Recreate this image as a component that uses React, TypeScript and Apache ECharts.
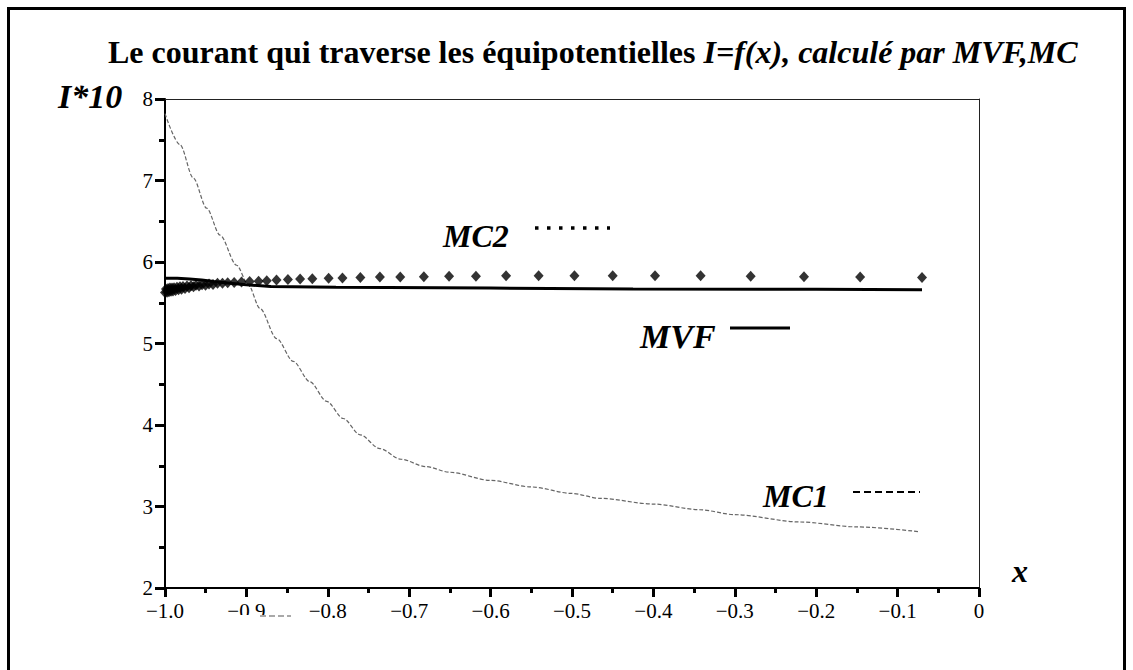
import React, { useEffect, useRef } from "react";
import * as echarts from "echarts";

// ---- data ----
const xTickLabels = ["−1.0", "−0.9", "−0.8", "−0.7", "−0.6", "−0.5", "−0.4", "−0.3", "−0.2", "−0.1", "0"];
const yTickLabels = ["2", "3", "4", "5", "6", "7", "8"];

const mc1X = [-1.0, -0.9816, -0.9652, -0.9488, -0.9324, -0.912, -0.8977, -0.8833, -0.8628, -0.8424, -0.8219, -0.8014, -0.781, -0.7604, -0.736, -0.71, -0.68, -0.65, -0.6, -0.55, -0.5, -0.4656, -0.4, -0.343, -0.3, -0.22, -0.15, -0.0725];
const mc1Y = [7.82, 7.44, 7.03, 6.66, 6.33, 5.96, 5.72, 5.43, 5.06, 4.78, 4.53, 4.29, 4.08, 3.88, 3.71, 3.58, 3.49, 3.42, 3.32, 3.24, 3.16, 3.1, 3.03, 2.96, 2.9, 2.81, 2.75, 2.69];

const mvfX = [-1.0, -0.985, -0.97, -0.955, -0.94, -0.92, -0.9, -0.87, -0.79, -0.6, -0.425, -0.2, -0.07];
const mvfY = [5.8, 5.8, 5.79, 5.78, 5.76, 5.74, 5.72, 5.7, 5.69, 5.68, 5.67, 5.665, 5.66];

const mc2X = [-1.0, -0.9988, -0.9975, -0.9963, -0.9951, -0.9939, -0.9926, -0.9914, -0.9902, -0.9889, -0.9871, -0.9853, -0.9834, -0.9816, -0.9797, -0.9779, -0.9754, -0.973, -0.9705, -0.9681, -0.965, -0.9619, -0.9582, -0.9545, -0.9502, -0.9459, -0.941, -0.9355, -0.9294, -0.923, -0.915, -0.906, -0.896, -0.885, -0.875, -0.863, -0.849, -0.834, -0.819, -0.799, -0.782, -0.76, -0.736, -0.711, -0.682, -0.651, -0.618, -0.581, -0.541, -0.497, -0.45, -0.398, -0.342, -0.2805, -0.215, -0.146, -0.07];
const mc2Y = [5.625, 5.67, 5.63, 5.675, 5.635, 5.68, 5.64, 5.68, 5.645, 5.685, 5.65, 5.69, 5.66, 5.695, 5.665, 5.7, 5.675, 5.705, 5.685, 5.71, 5.695, 5.715, 5.705, 5.72, 5.715, 5.73, 5.725, 5.74, 5.74, 5.745, 5.75, 5.755, 5.76, 5.765, 5.77, 5.78, 5.785, 5.79, 5.795, 5.8, 5.805, 5.81, 5.815, 5.815, 5.82, 5.825, 5.825, 5.83, 5.83, 5.83, 5.83, 5.83, 5.83, 5.825, 5.82, 5.815, 5.81];

const titleBold = "Le courant qui traverse les équipotentielles ";
const titleItalic = "I=f(x), calculé par MVF,MC";
const yAxisName = "I*10";
const xAxisName = "x";
const seriesNames = ["MC1", "MVF", "MC2"];

const FONT = "Liberation Serif";

const zip = (xs: number[], ys: number[]) => xs.map((x, i) => [x, ys[i]]);

export default function App() {
  const ref = useRef<HTMLDivElement>(null);

  useEffect(() => {
    if (!ref.current) return;
    const chart = echarts.init(ref.current, null, { renderer: "svg" });

    const xLabelFmt = (v: number) => {
      const idx = Math.round((v + 1) * 10);
      return xTickLabels[idx] ?? "";
    };
    const yLabelFmt = (v: number) => {
      const idx = Math.round(v - 2);
      return yTickLabels[idx] ?? "";
    };

    const bigLabel = (text: string, x: number, y: number, size = 32) => ({
      type: "text",
      x,
      y,
      style: {
        text,
        fontFamily: FONT,
        fontWeight: "bold",
        fontStyle: "italic",
        fontSize: size,
        fill: "#000",
        verticalAlign: "middle",
        align: "left",
      },
    });

    chart.setOption({
      animation: false,
      backgroundColor: "#fff",
      grid: { left: 165, right: 154, top: 99, bottom: 82, containLabel: false },
      xAxis: [
        {
          type: "value",
          min: -1,
          max: 0,
          interval: 0.1,
          position: "bottom",
          axisLine: { show: true, onZero: false, lineStyle: { color: "#000", width: 2 } },
          axisTick: { show: true, inside: false, length: 9, lineStyle: { color: "#000", width: 3 } },
          minorTick: { show: true, splitNumber: 2, length: 5, lineStyle: { color: "#000", width: 3 } },
          axisLabel: {
            show: true,
            margin: 12,
            formatter: xLabelFmt,
            fontFamily: FONT,
            fontSize: 21,
            color: "#000",
            showMinLabel: true,
            showMaxLabel: true,
            hideOverlap: false,
          },
          splitLine: { show: false },
          minorSplitLine: { show: false },
        },
        {
          type: "value",
          min: -1,
          max: 0,
          position: "top",
          axisLine: { show: true, onZero: false, lineStyle: { color: "#222", width: 1 } },
          axisTick: { show: false },
          axisLabel: { show: false },
          splitLine: { show: false },
        },
      ],
      yAxis: [
        {
          type: "value",
          min: 2,
          max: 8,
          interval: 1,
          position: "left",
          axisLine: { show: true, onZero: false, lineStyle: { color: "#000", width: 2 } },
          axisTick: { show: true, inside: false, length: 10, lineStyle: { color: "#000", width: 3 } },
          minorTick: { show: true, splitNumber: 2, length: 6, lineStyle: { color: "#000", width: 3 } },
          axisLabel: {
            show: true,
            margin: 12,
            formatter: yLabelFmt,
            fontFamily: FONT,
            fontSize: 21,
            color: "#000",
            showMinLabel: true,
            showMaxLabel: true,
            hideOverlap: false,
          },
          splitLine: { show: false },
          minorSplitLine: { show: false },
        },
        {
          type: "value",
          min: 2,
          max: 8,
          position: "right",
          axisLine: { show: true, onZero: false, lineStyle: { color: "#222", width: 1 } },
          axisTick: { show: false },
          axisLabel: { show: false },
          splitLine: { show: false },
        },
      ],
      series: [
        {
          name: seriesNames[0],
          type: "line",
          xAxisIndex: 0,
          yAxisIndex: 0,
          data: zip(mc1X, mc1Y),
          showSymbol: false,
          smooth: 0.3,
          smoothMonotone: "x",
          lineStyle: { color: "#666", width: 1.2, type: [4, 2] },
          z: 2,
        },
        {
          name: seriesNames[1],
          type: "line",
          xAxisIndex: 0,
          yAxisIndex: 0,
          data: zip(mvfX, mvfY),
          showSymbol: false,
          lineStyle: { color: "#000", width: 3 },
          z: 3,
        },
        {
          name: seriesNames[2],
          type: "scatter",
          xAxisIndex: 0,
          yAxisIndex: 0,
          data: zip(mc2X, mc2Y),
          symbol: "diamond",
          symbolSize: [10, 11],
          itemStyle: { color: "#000" },
          z: 4,
        },
      ],
      graphic: [
        {
          type: "rect",
          shape: { x: 8.5, y: 8.5, width: 1116, height: 700 },
          style: { fill: "none", stroke: "#000", lineWidth: 3 },
          silent: true,
        },
        {
          type: "text",
          x: 108,
          y: 52,
          style: {
            text: "{b|" + titleBold + "}{i|" + titleItalic + "}",
            verticalAlign: "middle",
            align: "left",
            rich: {
              b: { fontFamily: FONT, fontWeight: "bold", fontSize: 32, fill: "#000" },
              i: { fontFamily: FONT, fontWeight: "bold", fontStyle: "italic", fontSize: 32, fill: "#000" },
            },
          },
        },
        bigLabel(yAxisName, 58, 96, 34),
        bigLabel(xAxisName, 1012, 571, 32),
        bigLabel(seriesNames[2], 443, 236, 32),
        bigLabel(seriesNames[1], 640, 336, 34),
        bigLabel(seriesNames[0], 763, 496, 32),
        {
          type: "line",
          shape: { x1: 535, y1: 228, x2: 610, y2: 228 },
          style: { stroke: "#000", lineWidth: 3.5, lineDash: [3.5, 8.5] },
        },
        {
          type: "line",
          shape: { x1: 730, y1: 328, x2: 790, y2: 328 },
          style: { stroke: "#000", lineWidth: 3 },
        },
        {
          type: "line",
          shape: { x1: 853, y1: 492, x2: 920, y2: 492 },
          style: { stroke: "#000", lineWidth: 2, lineDash: [7, 4] },
        },
        {
          type: "rect",
          shape: { x: 222, y: 615, width: 72, height: 14 },
          style: { fill: "#fff" },
          z: 100,
        },
        {
          type: "line",
          shape: { x1: 260, y1: 616, x2: 291, y2: 616 },
          style: { stroke: "#555", lineWidth: 1.2, lineDash: [6, 3] },
          z: 101,
        },
      ],
    });

    return () => chart.dispose();
  }, []);

  return (
    <div
      ref={ref}
      style={{ position: "absolute", left: 0, top: 0, width: 1133, height: 670, background: "#fff" }}
    />
  );
}
